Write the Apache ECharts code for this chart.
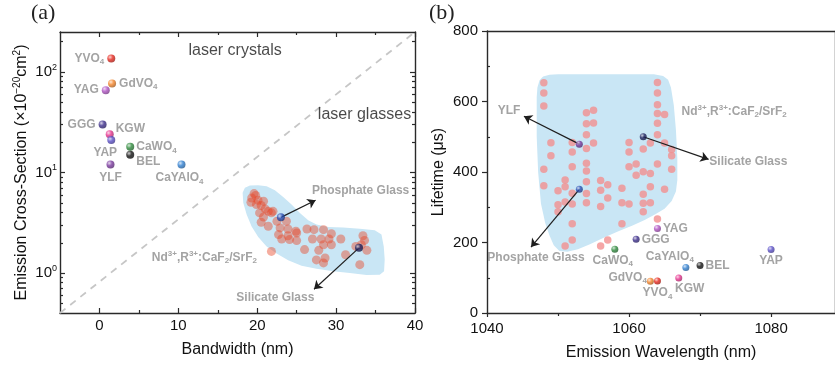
<!DOCTYPE html>
<html>
<head>
<meta charset="utf-8">
<script src="https://cdn.jsdelivr.net/npm/echarts@6/dist/echarts.min.js"></script>
<style>
  html, body { margin: 0; padding: 0; background: #fff; }
  #chart { width: 835px; height: 367px; }
</style>
</head>
<body>
<div id="chart"></div>
<script>
// ---- Laser crystals ----
const crystals = ['YVO4', 'GdVO4', 'YAG', 'GGG', 'KGW', 'YAP', 'CaWO4', 'BEL', 'YLF', 'CaYAlO4'];
const crystalBandwidth = [1.5, 1.6, 0.8, 0.4, 1.3, 1.5, 3.9, 3.9, 1.4, 10.4];
const crystalCrossSection = [136, 77, 66, 30, 24, 21, 18, 15, 12, 12];
const crystalWavelength = [1064, 1063, 1064, 1061, 1067, 1080, 1058, 1070, 1053, 1068];
const crystalLifetime = [91, 90, 240, 209, 99, 180, 181, 135, 479, 129];

// ---- Laser glasses ----
const glasses = ['Phosphate Glass', 'Silicate Glass'];
const glassBandwidth = [23.0, 32.9];
const glassCrossSection = [3.58, 1.78];
const glassWavelength = [1053, 1062];
const glassLifetime = [351, 500];

// ---- Nd3+,R3+:CaF2/SrF2 samples, panel (a) ----
const ndBandwidth = [19.6, 19.8, 19.3, 19.2, 20.1, 20.8, 20.5, 19.9, 21.0, 21.4,
  20.3, 22.0, 20.8, 20.5, 21.4, 22.5, 23.7, 22.9, 22.7, 23.9,
  23.9, 25.0, 24.1, 23.1, 25.0, 26.3, 27.2, 28.4, 29.4, 27.0,
  28.1, 29.1, 30.6, 28.4, 29.4, 27.8, 27.5, 28.6, 28.4, 21.8,
  26.0, 31.2, 33.9, 33.0, 33.4, 33.6, 33.2, 32.5, 24.9, 21.8];
const ndCrossSection = [6.17, 5.90, 5.58, 5.06, 5.30, 5.18, 4.69, 4.80, 4.34, 4.11,
  3.96, 4.11, 3.61, 3.20, 2.92, 3.27, 3.27, 2.81, 2.41, 2.74,
  2.35, 2.50, 2.15, 2.18, 2.10, 2.74, 2.70, 2.70, 2.46, 2.18,
  2.18, 2.18, 2.18, 1.91, 1.91, 1.68, 1.35, 1.41, 1.26, 1.64,
  1.71, 1.52, 1.68, 1.21, 2.35, 2.11, 1.91, 1.84, 2.60, 3.97];

// ---- Nd3+,R3+:CaF2/SrF2 samples, panel (b) ----
const ndWavelength = [1048, 1048, 1048, 1048, 1048, 1049, 1049, 1050, 1050, 1050,
  1051, 1051, 1051, 1051, 1052, 1052, 1052, 1052, 1052, 1052, 1052,
  1054, 1054, 1054, 1054, 1054, 1054, 1054, 1054, 1054,
  1055, 1055, 1055, 1056, 1056, 1056, 1056, 1057, 1057, 1057,
  1059, 1059, 1059, 1060, 1060, 1060, 1060, 1061, 1061,
  1062, 1062, 1062, 1062, 1062, 1063, 1063, 1063, 1063,
  1064, 1064, 1064, 1064, 1064, 1064, 1064, 1064,
  1065, 1065, 1065, 1066, 1066, 1066];
const ndLifetime = [653, 624, 587, 408, 361, 483, 446, 347, 307, 287,
  377, 358, 315, 190, 484, 457, 415, 340, 309, 253, 207,
  568, 537, 506, 467, 425, 403, 372, 339, 313,
  575, 539, 482, 376, 348, 302, 190, 364, 326, 207,
  354, 313, 253, 484, 457, 415, 309, 423, 391,
  465, 401, 337, 311, 287, 482, 396, 358, 313,
  654, 624, 591, 566, 538, 506, 423, 267,
  563, 482, 351, 464, 446, 408];

// Outline of the shaded sample regions (data space)
const regionA = [[18.15, 6.28], [18.44, 7.04], [19.08, 7.42], [20.13, 7.47], [21.19, 7.30], [22.24, 6.66],
  [23.29, 5.72], [24.35, 4.80], [25.41, 3.96], [26.46, 3.35], [27.52, 3.03], [28.99, 2.87],
  [30.89, 2.83], [33.0, 2.75], [34.9, 2.66], [35.75, 2.41], [36.04, 1.84], [36.16, 1.36],
  [36.08, 1.04], [35.53, 0.96], [33.85, 0.955], [31.73, 1.0], [29.62, 1.04], [27.52, 1.10],
  [25.62, 1.18], [23.92, 1.34], [22.46, 1.56], [21.19, 1.84], [20.13, 2.28], [19.29, 2.91],
  [18.66, 3.81], [18.23, 4.99]];
const regionB = [[1047.0, 613], [1047.1, 640], [1047.4, 660], [1047.9, 671], [1048.8, 676], [1050.0, 677],
  [1063.5, 677], [1064.8, 672], [1065.5, 662], [1065.9, 640], [1066.3, 590], [1066.6, 520],
  [1066.8, 440], [1066.8, 377], [1066.6, 345], [1066.0, 318], [1065.0, 296], [1063.7, 280],
  [1062.2, 264], [1060.5, 248], [1058.5, 232], [1056.5, 214], [1054.5, 195], [1052.8, 181],
  [1051.3, 174], [1050.2, 176], [1049.4, 192], [1048.8, 220], [1048.2, 255], [1047.6, 310],
  [1047.2, 400], [1047.0, 500]];

// Axis ticks
const aTicksX = [0, 10, 20, 30, 40];
const aMinorX = [5, 15, 25, 35];
const aTicksY = [1, 10, 100];
const aMinorY = [0.5, 0.6, 0.7, 0.8, 0.9, 2, 3, 4, 5, 6, 7, 8, 9, 20, 30, 40, 50, 60, 70, 80, 90, 200];
const bTicksX = [1040, 1060, 1080];
const bMinorX = [1050, 1070];
const bTicksY = [0, 200, 400, 600, 800];
const bMinorY = [100, 300, 500, 700];

// ---- Styling ----
const FONT = 'Liberation Sans, Arial, sans-serif';
const AXIS_COLOR = '#2a2a2a';
const NOTE_GRAY = '#8c8c8c';
const REGION_FILL = '#c9e6f5';
const crystalColors = {
  YVO4: '#e8261c', GdVO4: '#f5852a', YAG: '#b052c4', GGG: '#3b2c8c', KGW: '#e8338f',
  YAP: '#5a4fc9', CaWO4: '#2e8b3c', BEL: '#111111', YLF: '#7a389f', CaYAlO4: '#2f80d2'
};
const glassColors = ['#2b50b5', '#1f215f'];

const labelPlaceA = {
  YVO4: { position: 'left', distance: 3 },
  GdVO4: { position: 'right', distance: 3 },
  YAG: { position: 'left', distance: 3 },
  GGG: { position: 'left', distance: 3 },
  KGW: { position: 'right', distance: 2, offset: [0, -6] },
  YAP: { position: 'bottom', distance: 1, offset: [-6, 0] },
  CaWO4: { position: 'right', distance: 2 },
  BEL: { position: 'right', distance: 2, offset: [0, 7] },
  YLF: { position: 'bottom', distance: 2 },
  CaYAlO4: { position: 'bottom', distance: 2, offset: [-2, 0] }
};
const labelPlaceB = {
  YVO4: { position: 'bottom', distance: 1 },
  GdVO4: { position: 'left', distance: 0, offset: [0, -4] },
  YAG: { position: 'right', distance: 2 },
  GGG: { position: 'right', distance: 2 },
  KGW: { position: 'bottom', distance: 0, offset: [11, 0] },
  YAP: { position: 'bottom', distance: 0 },
  CaWO4: { position: 'bottom', distance: 0, offset: [-2, 0] },
  BEL: { position: 'right', distance: 2 },
  YLF: { show: false },
  CaYAlO4: { position: 'top', distance: 0, offset: [-16, 0] }
};

// Arrow tips and free text (data space)
const arrowTipsA = [[27.4, 5.3], [27.2, 0.69]];
const arrowTipsB = [[1045.2, 558], [1046.2, 187], [1071.2, 436]];
const ndText = '{n|Nd}{p|3+}{n|,R}{p|3+}{n|:CaF}{s|2}{n|/SrF}{s|2}';
const notesA = [
  { text: '{t|laser crystals}', at: [17.2, 162] },
  { text: '{t|laser glasses}', at: [33.6, 38] },
  { text: ndText, at: [13.3, 1.42] },
  { text: '{n|Phosphate Glass}', at: [33.1, 6.6] },
  { text: '{n|Silicate Glass}', at: [22.3, 0.57] }
];
const notesB = [
  { text: '{n|YLF}', at: [1043.1, 573] },
  { text: '{n|Phosphate Glass}', at: [1046.9, 157] },
  { text: '{n|Silicate Glass}', at: [1076.8, 429] },
  { text: ndText, at: [1074.8, 571] }
];

const rich = {
  n: { fontFamily: FONT, fontSize: 12, fontWeight: 'bold', color: NOTE_GRAY, lineHeight: 15 },
  s: { fontFamily: FONT, fontSize: 8, fontWeight: 'bold', color: NOTE_GRAY, lineHeight: 8, verticalAlign: 'bottom' },
  p: { fontFamily: FONT, fontSize: 8, fontWeight: 'bold', color: NOTE_GRAY, lineHeight: 8, verticalAlign: 'top' },
  t: { fontFamily: FONT, fontSize: 16, color: '#1a1a1a', lineHeight: 20 }
};

function chem(name) {
  const m = name.match(/^(.*?)(\d+)$/);
  return m ? '{n|' + m[1] + '}{s|' + m[2] + '}' : '{n|' + name + '}';
}
function hexRgb(h) {
  const v = parseInt(h.slice(1), 16);
  return [(v >> 16) & 255, (v >> 8) & 255, v & 255];
}
function mix(h, t, target) {
  const c = hexRgb(h);
  return 'rgb(' + c.map((x, i) => Math.round(x + (target[i] - x) * t)).join(',') + ')';
}
function sphere(c) {
  return {
    type: 'radial', x: 0.35, y: 0.32, r: 0.75,
    colorStops: [
      { offset: 0, color: mix(c, 0.75, [255, 255, 255]) },
      { offset: 0.45, color: c },
      { offset: 1, color: mix(c, 0.35, [0, 0, 0]) }
    ]
  };
}

// ---- Axis builders ----
const lineStyle = { color: AXIS_COLOR, width: 1.4 };
function axis(base, o) {
  return Object.assign({}, base, {
    position: o.position,
    axisLine: { show: !!o.line, onZero: false, lineStyle },
    axisTick: o.ticks
      ? { show: true, inside: !!o.inside, length: o.len, customValues: o.ticks, lineStyle: { color: AXIS_COLOR, width: 1.2 } }
      : { show: false },
    axisLabel: o.labels ? Object.assign({ show: true, customValues: o.labels }, o.labelStyle) : { show: false },
    splitLine: { show: false },
    name: o.name || '',
    nameLocation: 'middle',
    nameGap: o.nameGap || 0,
    nameTextStyle: o.nameStyle || {},
    silent: true
  });
}

const tickText = { fontFamily: FONT, fontSize: 15, color: '#111', formatter: v => String(v) };
const nameText = { fontFamily: FONT, fontSize: 16, color: '#111' };

const xA = { type: 'value', gridIndex: 0, min: -5, max: 40 };
const yA = { type: 'log', logBase: 10, gridIndex: 0, min: 0.4, max: 250 };
const xB = { type: 'value', gridIndex: 1, min: 1040, max: 1089 };
const yB = { type: 'value', gridIndex: 1, min: 0, max: 800 };

const xAxes = [
  axis(xA, { position: 'bottom', line: true, ticks: aTicksX, inside: true, len: 5, labels: aTicksX,
    labelStyle: Object.assign({ margin: 5 }, tickText), name: 'Bandwidth (nm)', nameGap: 29, nameStyle: nameText }),
  axis(xA, { position: 'bottom', ticks: aMinorX, inside: true, len: 3 }),
  axis(xA, { position: 'top', line: true, ticks: aTicksX, inside: true, len: 5 }),
  axis(xA, { position: 'top', ticks: aMinorX, inside: true, len: 3 }),
  axis(xB, { position: 'bottom', line: true, ticks: bTicksX, inside: false, len: 4, labels: bTicksX,
    labelStyle: Object.assign({ margin: 8 }, tickText), name: 'Emission Wavelength (nm)', nameGap: 32, nameStyle: nameText }),
  axis(xB, { position: 'bottom', ticks: bMinorX, inside: false, len: 3 }),
  axis(xB, { position: 'top', line: true })
];

const yAxes = [
  axis(yA, { position: 'left', line: true, ticks: aTicksY, inside: true, len: 5, labels: aTicksY,
    labelStyle: {
      margin: 3,
      formatter: v => '{b|10}{e|' + Math.round(Math.log10(v)) + '}',
      rich: {
        b: { fontFamily: FONT, fontSize: 15, color: '#111', lineHeight: 18 },
        e: { fontFamily: FONT, fontSize: 9, color: '#111', lineHeight: 9, verticalAlign: 'top' }
      }
    },
    name: '{q|Emission Cross-Section (×10}{r|−20}{q|cm}{r|2}{q|)}', nameGap: 28,
    nameStyle: {
      rich: {
        q: { fontFamily: FONT, fontSize: 16, color: '#111', lineHeight: 20 },
        r: { fontFamily: FONT, fontSize: 10, color: '#111', lineHeight: 10, verticalAlign: 'top' }
      }
    } }),
  axis(yA, { position: 'left', ticks: aMinorY, inside: true, len: 3 }),
  axis(yA, { position: 'right', line: true, ticks: aTicksY, inside: true, len: 5 }),
  axis(yA, { position: 'right', ticks: aMinorY, inside: true, len: 3 }),
  axis(yB, { position: 'left', line: true, ticks: bTicksY, inside: false, len: 5, labels: bTicksY,
    labelStyle: Object.assign({ margin: 9 }, tickText), name: 'Lifetime (μs)', nameGap: 40, nameStyle: nameText }),
  axis(yB, { position: 'left', ticks: bMinorY, inside: true, len: 3 }),
  axis(yB, { position: 'right', line: true })
];

// ---- Series builders ----
function regionSeries(xi, yi, outline) {
  return {
    type: 'custom', xAxisIndex: xi, yAxisIndex: yi, silent: true, z: 1,
    data: [outline[0]],
    renderItem: (params, api) => ({
      type: 'polygon',
      shape: { points: outline.map(p => api.coord(p)) },
      style: { fill: REGION_FILL }
    })
  };
}
function crystalSeries(xi, yi, xs, ys, place, size) {
  return {
    type: 'scatter', xAxisIndex: xi, yAxisIndex: yi, symbolSize: size, z: 5, silent: true,
    data: crystals.map((name, i) => ({
      value: [xs[i], ys[i]],
      itemStyle: { color: sphere(crystalColors[name]) },
      label: Object.assign({ show: true, formatter: chem(name), rich }, place[name])
    }))
  };
}
function glassSeries(xi, yi, xs, ys, size) {
  return {
    type: 'scatter', xAxisIndex: xi, yAxisIndex: yi, symbolSize: size, z: 5, silent: true,
    data: glasses.map((name, i) => ({ value: [xs[i], ys[i]], itemStyle: { color: sphere(glassColors[i]) } }))
  };
}
function arrowSeries(xi, yi, pairs) {
  return {
    type: 'lines', coordinateSystem: 'cartesian2d', xAxisIndex: xi, yAxisIndex: yi, z: 4, silent: true,
    symbol: ['none', 'arrow'], symbolSize: 8,
    lineStyle: { color: '#1e1e1e', width: 1.2, opacity: 1 },
    data: pairs.map(p => ({ coords: p }))
  };
}
function noteSeries(xi, yi, notes) {
  return {
    type: 'scatter', xAxisIndex: xi, yAxisIndex: yi, symbolSize: 1, z: 6, silent: true,
    itemStyle: { color: 'rgba(0,0,0,0)' },
    data: notes.map(n => ({ value: n.at, label: { show: true, position: 'inside', formatter: n.text, rich } }))
  };
}

const series = [
  // panel (a)
  regionSeries(0, 0, regionA),
  {
    type: 'line', xAxisIndex: 0, yAxisIndex: 0, showSymbol: false, silent: true, z: 2,
    lineStyle: { type: [7, 6], color: '#c6c6c6', width: 1.8 },
    data: [[-5, 0.4], [40, 250]]
  },
  {
    type: 'scatter', xAxisIndex: 0, yAxisIndex: 0, symbolSize: 9, z: 3, silent: true,
    itemStyle: { color: 'rgba(232, 68, 36, 0.55)' },
    data: ndBandwidth.map((x, i) => [x, ndCrossSection[i]])
  },
  arrowSeries(0, 0, [
    [[glassBandwidth[0], glassCrossSection[0]], arrowTipsA[0]],
    [[glassBandwidth[1], glassCrossSection[1]], arrowTipsA[1]]
  ]),
  crystalSeries(0, 0, crystalBandwidth, crystalCrossSection, labelPlaceA, 8),
  glassSeries(0, 0, glassBandwidth, glassCrossSection, 8),
  noteSeries(0, 0, notesA),

  // panel (b)
  regionSeries(4, 4, regionB),
  {
    type: 'scatter', xAxisIndex: 4, yAxisIndex: 4, symbolSize: 7.5, z: 3, silent: true,
    itemStyle: { color: '#f29090' },
    data: ndWavelength.map((x, i) => [x, ndLifetime[i]])
  },
  arrowSeries(4, 4, [
    [[crystalWavelength[8], crystalLifetime[8]], arrowTipsB[0]],
    [[glassWavelength[0], glassLifetime[0]], arrowTipsB[1]],
    [[glassWavelength[1], glassLifetime[1]], arrowTipsB[2]]
  ]),
  crystalSeries(4, 4, crystalWavelength, crystalLifetime, labelPlaceB, 7),
  glassSeries(4, 4, glassWavelength, glassLifetime, 7),
  noteSeries(4, 4, notesB)
];

const chart = echarts.init(document.getElementById('chart'), null, { renderer: 'canvas' });
chart.setOption({
  backgroundColor: '#ffffff',
  animation: false,
  grid: [
    { left: 60, right: 420, top: 32, bottom: 54, outerBoundsMode: 'none' },
    { left: 487, right: 0, top: 31, bottom: 54, outerBoundsMode: 'none' }
  ],
  xAxis: xAxes,
  yAxis: yAxes,
  graphic: [
    { type: 'text', left: 31, top: 2, style: { text: '(a)', font: '22px "Liberation Serif", serif', fill: '#222' } },
    { type: 'text', left: 429, top: 2, style: { text: '(b)', font: '22px "Liberation Serif", serif', fill: '#222' } }
  ],
  series
});
</script>
</body>
</html>
